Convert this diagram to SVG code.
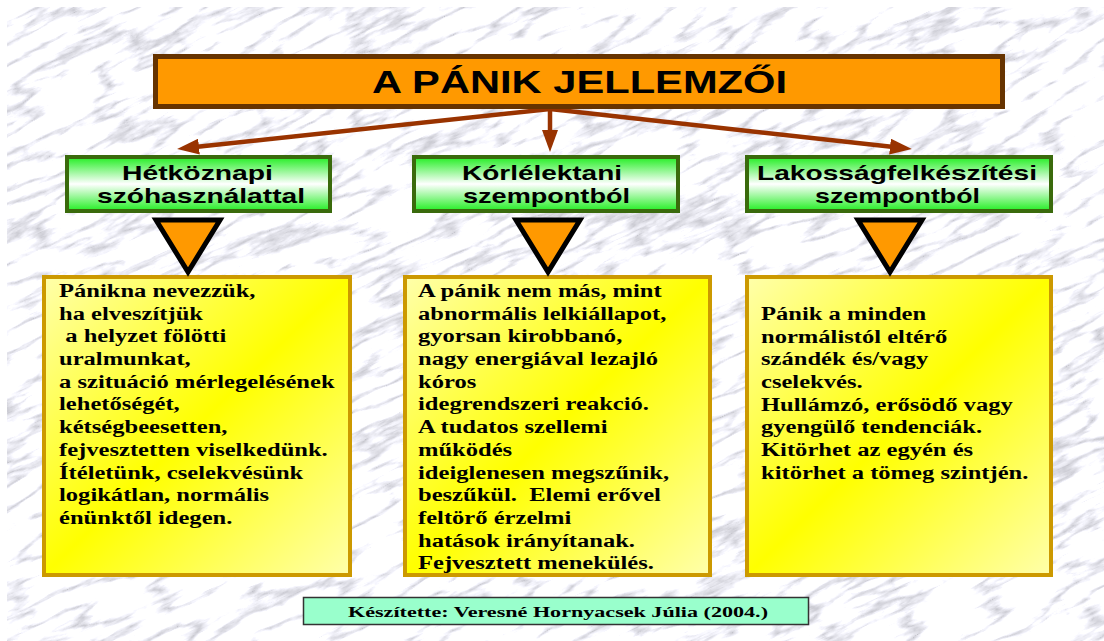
<svg xmlns="http://www.w3.org/2000/svg" width="1104" height="641" viewBox="0 0 1104 641">
<style>
.title{font-family:"Liberation Sans",Arial,sans-serif;font-weight:bold;font-size:32px;fill:#000}
.head{font-family:"Liberation Sans",Arial,sans-serif;font-weight:bold;font-size:20.5px;fill:#000}
.body{font-family:"Liberation Serif","Times New Roman",serif;font-weight:bold;font-size:19.5px;fill:#000}
.foot{font-family:"Liberation Serif","Times New Roman",serif;font-weight:bold;font-size:15.5px;fill:#000}
.gbox{fill:url(#green);stroke:#3A6A0C;stroke-width:4}
.ybox{fill:url(#yellow);stroke:#CC9900;stroke-width:4}
.tri{fill:#FF9900;stroke:#000;stroke-width:5;stroke-linejoin:miter}
.conn{stroke:#993300;stroke-width:4.5;fill:none}
</style>
<defs>
<filter id="marble" filterUnits="userSpaceOnUse" x="-500" y="-500" width="2200" height="1700" color-interpolation-filters="sRGB">
<feTurbulence type="turbulence" baseFrequency="0.012 0.05" numOctaves="5" seed="7"/>
<feColorMatrix type="matrix" values="0.9 0 0 0 0.76  0.9 0 0 0 0.76  0.9 0 0 0 0.79  0 0 0 0 1"/>
</filter>
<clipPath id="bgclip"><rect x="7" y="7" width="1097" height="634"/></clipPath>
<linearGradient id="green" x1="0" y1="0" x2="0" y2="1">
<stop offset="0" stop-color="#22EE22"/>
<stop offset="0.5" stop-color="#FFFFFF"/>
<stop offset="1" stop-color="#22EE22"/>
</linearGradient>
<linearGradient id="yellow" x1="0" y1="0" x2="1" y2="1">
<stop offset="0" stop-color="#FFFFAA"/>
<stop offset="0.5" stop-color="#FFFF00"/>
<stop offset="1" stop-color="#FFFFAA"/>
</linearGradient>
<marker id="ah" markerUnits="userSpaceOnUse" markerWidth="22" markerHeight="16" refX="6" refY="8" orient="auto">
<path d="M0,0 L22,8 L0,16 z" fill="#993300"/>
</marker>
</defs>
<rect width="1104" height="641" fill="#FFFFFF"/>
<g clip-path="url(#bgclip)">
<rect x="-400" y="-400" width="1900" height="1450" fill="#ddd" filter="url(#marble)" transform="rotate(-25 552 320)"/>
</g>

<g id="connectors">
<line class="conn" x1="550" y1="109" x2="193" y2="147.3" marker-end="url(#ah)"/>
<line class="conn" x1="550" y1="109" x2="550" y2="136" marker-end="url(#ah)"/>
<line class="conn" x1="550" y1="109" x2="896" y2="147.3" marker-end="url(#ah)"/>
</g>

<g id="title">
<rect x="155.5" y="56.5" width="847" height="50" fill="#FF9900" stroke="#663300" stroke-width="5"/>
<text class="title" x="372" y="93" textLength="415" lengthAdjust="spacingAndGlyphs">A PÁNIK JELLEMZŐI</text>
</g>

<g id="head1">
<rect class="gbox" x="67" y="157" width="263" height="54"/>
<text class="head" x="122" y="180" textLength="151" lengthAdjust="spacingAndGlyphs">Hétköznapi</text>
<text class="head" x="97" y="203" textLength="208" lengthAdjust="spacingAndGlyphs">szóhasználattal</text>
</g>
<g id="head2">
<rect class="gbox" x="414" y="157" width="264" height="54"/>
<text class="head" x="462" y="180" textLength="160" lengthAdjust="spacingAndGlyphs">Kórlélektani</text>
<text class="head" x="463" y="203" textLength="167" lengthAdjust="spacingAndGlyphs">szempontból</text>
</g>
<g id="head3">
<rect class="gbox" x="747" y="157" width="304" height="54"/>
<text class="head" x="757" y="180" textLength="280" lengthAdjust="spacingAndGlyphs">Lakosságfelkészítési</text>
<text class="head" x="815" y="203" textLength="165" lengthAdjust="spacingAndGlyphs">szempontból</text>
</g>

<g id="box1">
<rect class="ybox" x="44" y="277" width="306" height="298"/>
<polygon class="tri" points="156,220 220,220 188,272"/>
<text class="body" transform="translate(59 0) scale(1.26 1)">
<tspan x="0" y="297">Pánikna nevezzük,</tspan>
<tspan x="0" y="319.7">ha elveszítjük</tspan>
<tspan x="5" y="342.4">a helyzet fölötti</tspan>
<tspan x="0" y="365.1">uralmunkat,</tspan>
<tspan x="0" y="387.8">a szituáció mérlegelésének</tspan>
<tspan x="0" y="410.5">lehetőségét,</tspan>
<tspan x="0" y="433.2">kétségbeesetten,</tspan>
<tspan x="0" y="455.9">fejvesztetten viselkedünk.</tspan>
<tspan x="0" y="478.6">Ítéletünk, cselekvésünk</tspan>
<tspan x="0" y="501.3">logikátlan, normális</tspan>
<tspan x="0" y="524">énünktől idegen.</tspan>
</text>
</g>

<g id="box2">
<rect class="ybox" x="405" y="277" width="305" height="298"/>
<polygon class="tri" points="516,220 580,220 548,272"/>
<text class="body" transform="translate(418 0) scale(1.26 1)">
<tspan x="0" y="297">A pánik nem más, mint</tspan>
<tspan x="0" y="319.7">abnormális lelkiállapot,</tspan>
<tspan x="0" y="342.4">gyorsan kirobbanó,</tspan>
<tspan x="0" y="365.1">nagy energiával lezajló</tspan>
<tspan x="0" y="387.8">kóros</tspan>
<tspan x="0" y="410.5">idegrendszeri reakció.</tspan>
<tspan x="0" y="433.2">A tudatos szellemi</tspan>
<tspan x="0" y="455.9">működés</tspan>
<tspan x="0" y="478.6">ideiglenesen megszűnik,</tspan>
<tspan x="0" y="501.3">beszűkül.&#160; Elemi erővel</tspan>
<tspan x="0" y="524">feltörő érzelmi</tspan>
<tspan x="0" y="546.7">hatások irányítanak.</tspan>
<tspan x="0" y="569.4">Fejvesztett menekülés.</tspan>
</text>
</g>

<g id="box3">
<rect class="ybox" x="747" y="277" width="304" height="298"/>
<polygon class="tri" points="858,220 922,220 890,272"/>
<text class="body" transform="translate(761 0) scale(1.26 1)">
<tspan x="0" y="320">Pánik a minden</tspan>
<tspan x="0" y="342.7">normálistól eltérő</tspan>
<tspan x="0" y="365.4">szándék és/vagy</tspan>
<tspan x="0" y="388.1">cselekvés.</tspan>
<tspan x="0" y="410.8">Hullámzó, erősödő vagy</tspan>
<tspan x="0" y="433.5">gyengülő tendenciák.</tspan>
<tspan x="0" y="456.2">Kitörhet az egyén és</tspan>
<tspan x="0" y="478.9">kitörhet a tömeg szintjén.</tspan>
</text>
</g>

<g id="footer">
<rect x="303.5" y="597.5" width="505" height="27" fill="#99FFCC" stroke="#333333" stroke-width="1.5"/>
<text class="foot" x="348" y="617" textLength="420" lengthAdjust="spacingAndGlyphs">Készítette: Veresné Hornyacsek Júlia (2004.)</text>
</g>
</svg>
